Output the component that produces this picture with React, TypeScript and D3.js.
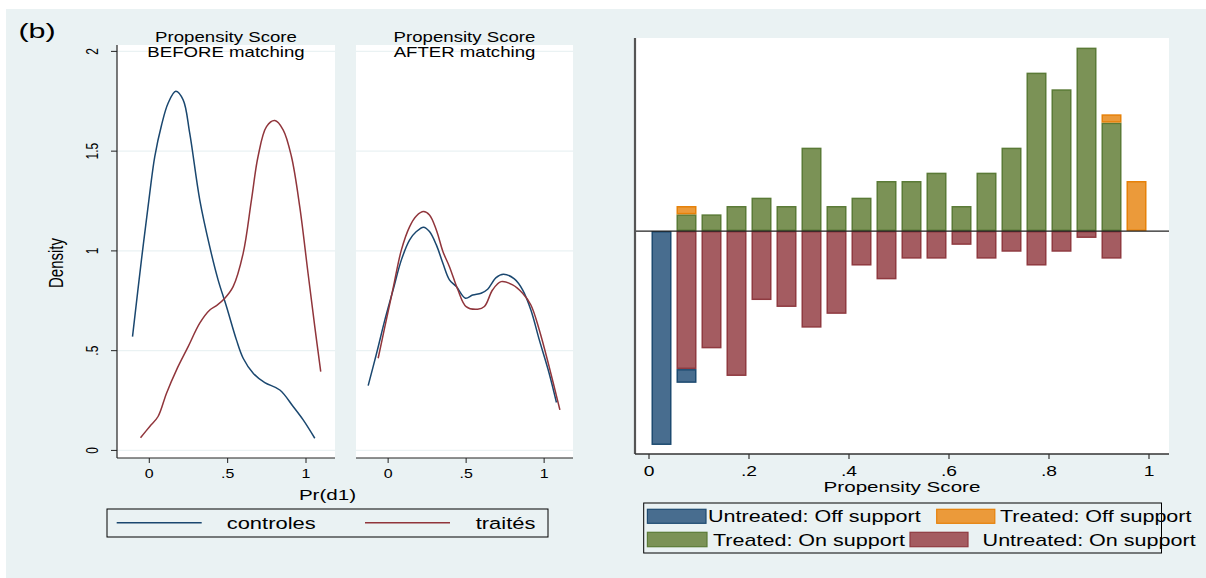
import React from "react";
import * as d3 from "d3";

// ---------- data ----------
const leftXTicks = [0, 0.5, 1];
const leftXTickLabels = ["0", ".5", "1"];
const leftYTicks = [0, 0.5, 1, 1.5, 2];
const leftYTickLabels = ["0", ".5", "1", "1.5", "2"];

// Kernel density curves (x = Pr(d1), y = density), BEFORE matching
const beforeControlesX = [-0.107, -0.05, 0.003, 0.035, 0.078, 0.12, 0.169, 0.216, 0.258, 0.322, 0.386, 0.439, 0.493, 0.556, 0.599, 0.663, 0.737, 0.833, 0.918, 0.982, 1.056];
const beforeControlesY = [0.57, 0.955, 1.29, 1.473, 1.63, 1.74, 1.8, 1.757, 1.59, 1.256, 1.02, 0.855, 0.72, 0.554, 0.462, 0.387, 0.34, 0.303, 0.22, 0.153, 0.061];
const beforeTraitesX = [-0.056, 0.003, 0.056, 0.11, 0.174, 0.248, 0.322, 0.386, 0.429, 0.482, 0.535, 0.599, 0.652, 0.694, 0.748, 0.801, 0.854, 0.907, 0.96, 1.013, 1.056, 1.094];
const beforeTraitesY = [0.064, 0.12, 0.17, 0.287, 0.404, 0.52, 0.638, 0.704, 0.726, 0.763, 0.821, 0.988, 1.256, 1.473, 1.623, 1.653, 1.607, 1.473, 1.222, 0.888, 0.62, 0.395];

// AFTER matching
const afterControlesX = [-0.128, -0.074, -0.021, 0.032, 0.085, 0.138, 0.181, 0.227, 0.265, 0.309, 0.351, 0.393, 0.437, 0.496, 0.542, 0.596, 0.638, 0.692, 0.739, 0.809, 0.862, 0.915, 0.969, 1.032, 1.079];
const afterControlesY = [0.325, 0.487, 0.654, 0.805, 0.955, 1.055, 1.097, 1.119, 1.097, 1.03, 0.938, 0.855, 0.821, 0.763, 0.779, 0.788, 0.808, 0.866, 0.883, 0.86, 0.805, 0.704, 0.554, 0.387, 0.24];
const afterTraitesX = [-0.064, -0.021, 0.032, 0.085, 0.138, 0.181, 0.227, 0.265, 0.309, 0.351, 0.393, 0.447, 0.5, 0.574, 0.617, 0.67, 0.724, 0.798, 0.862, 0.915, 0.969, 1.032, 1.101];
const afterTraitesY = [0.462, 0.62, 0.813, 1.005, 1.122, 1.175, 1.197, 1.18, 1.105, 0.997, 0.921, 0.805, 0.721, 0.708, 0.721, 0.805, 0.846, 0.83, 0.788, 0.729, 0.604, 0.42, 0.203];

// psgraph histogram (bin width 0.05)
const binCenters = [0.025, 0.075, 0.125, 0.175, 0.225, 0.275, 0.325, 0.375, 0.425, 0.475, 0.525, 0.575, 0.625, 0.675, 0.725, 0.775, 0.825, 0.875, 0.925, 0.975];
const binWidth = 0.05;
const treatedOn = [0, 2, 2, 3, 4, 3, 10, 3, 4, 6, 6, 7, 3, 7, 10, 19, 17, 22, 13, 0];
const treatedOff = [0, 1, 0, 0, 0, 0, 0, 0, 0, 0, 0, 0, 0, 0, 0, 0, 0, 0, 1, 6];
const untreatedOn = [0, 20, 17, 21, 10, 11, 14, 12, 5, 7, 4, 4, 2, 4, 3, 5, 3, 1, 4, 0];
const untreatedOff = [31, 2, 0, 0, 0, 0, 0, 0, 0, 0, 0, 0, 0, 0, 0, 0, 0, 0, 0, 0];
const rightXTicks = [0, 0.2, 0.4, 0.6, 0.8, 1];
const rightXTickLabels = ["0", ".2", ".4", ".6", ".8", "1"];

// ---------- style ----------
const BG = "#eaf2f3";
const NAVY = "#1a476f";
const MAROON = "#90353b";
const FONT = "'Liberation Sans', Arial, Helvetica, sans-serif";
const SX = 1.33;

const C = {
  offU: { fill: "#486d8f", stroke: "#1d4a70" },
  offT: { fill: "#eb9a3a", stroke: "#e68109" },
  onT: { fill: "#7b9256", stroke: "#5a7a36" },
  onU: { fill: "#a45c61", stroke: "#8f3a40" },
};

function T({ x, y, size, anchor = "middle", rotate = 0, sx = SX, children }: any) {
  return (
    <text
      transform={`translate(${x},${y}) scale(${sx},1)${rotate ? ` rotate(${rotate})` : ""}`}
      fontSize={size}
      textAnchor={anchor}
      fontFamily={FONT}
      fill="#000"
    >
      {children}
    </text>
  );
}

function zip(xs: number[], ys: number[]) {
  return xs.map((x, i) => [x, ys[i]] as [number, number]);
}

export default function App() {
  // left panels
  const pTop = 45, pBot = 458;
  const yL = d3.scaleLinear().domain([-0.038, 2.032]).range([pBot, pTop]);
  const xDom = [-0.206, 1.185];
  const panels = [
    { x0: 117, x1: 335, t2: "BEFORE matching", c: zip(beforeControlesX, beforeControlesY), t: zip(beforeTraitesX, beforeTraitesY), axis: true },
    { x0: 356, x1: 573, t2: "AFTER matching", c: zip(afterControlesX, afterControlesY), t: zip(afterTraitesX, afterTraitesY), axis: false },
  ];

  // right panel
  const rL = 635, rR = 1169, rT = 38, rB = 454;
  const xR = d3.scaleLinear().domain([0, 1]).range([649, 1149]);
  const yR = d3.scaleLinear().domain([-3.59, 3.108]).range([rB, rT]);
  const nT = d3.sum(treatedOn) + d3.sum(treatedOff);
  const nU = d3.sum(untreatedOn) + d3.sum(untreatedOff);
  const dT = (c: number) => c / (nT * binWidth);
  const dU = (c: number) => c / (nU * binWidth);
  const barHalf = 0.02;

  const bars: any[] = [];
  binCenters.forEach((bc, i) => {
    const x0 = xR(bc - barHalf), x1 = xR(bc + barHalf);
    const a1 = dT(treatedOn[i]);
    const a2 = a1 + dT(treatedOff[i]);
    const b1 = dU(untreatedOn[i]);
    const b2 = b1 + dU(untreatedOff[i]);
    const add = (lo: number, hi: number, col: any, key: string) => {
      if (hi - lo <= 0) return;
      const yA = yR(hi), yB = yR(lo);
      bars.push(
        <rect key={key + i} x={x0 + 0.75} y={yA + 0.75} width={x1 - x0 - 1.5} height={Math.max(0, yB - yA - 1.5)}
          fill={col.fill} stroke={col.stroke} strokeWidth={1.5} />
      );
    };
    add(0, a1, C.onT, "ton");
    add(a1, a2, C.offT, "toff");
    add(-b1, 0, C.onU, "uon");
    add(-b2, -b1, C.offU, "uoff");
  });

  return (
    <svg width={1206} height={578} style={{ position: "absolute", left: 0, top: 0 }} xmlns="http://www.w3.org/2000/svg">
      <rect x={0} y={0} width={1206} height={578} fill="#fff" />
      <rect x={6} y={9} width={1200} height={569} fill={BG} />

      <T x={37} y={38} size={21} sx={1.45}>(b)</T>

      {panels.map((p, pi) => {
        const xs = d3.scaleLinear().domain(xDom).range([p.x0, p.x1]);
        const line = d3.line<[number, number]>().x(d => xs(d[0])).y(d => yL(d[1])).curve(d3.curveCatmullRom);
        const cx = (p.x0 + p.x1) / 2;
        return (
          <g key={pi}>
            <rect x={p.x0} y={pTop} width={p.x1 - p.x0} height={pBot - pTop} fill="#fff" />
            {leftYTicks.map(v => (
              <line key={v} x1={p.x0} x2={p.x1} y1={yL(v)} y2={yL(v)} stroke={BG} strokeWidth={1.2} />
            ))}
            <path d={line(p.c) || ""} fill="none" stroke={NAVY} strokeWidth={1.5} />
            <path d={line(p.t) || ""} fill="none" stroke={MAROON} strokeWidth={1.5} />
            <line x1={p.x0} x2={p.x1} y1={pBot} y2={pBot} stroke="#222" strokeWidth={1.2} />
            {leftXTicks.map((v, i) => (
              <g key={v}>
                <line x1={xs(v)} x2={xs(v)} y1={pBot} y2={pBot + 5} stroke="#222" strokeWidth={1} />
                <T x={xs(v)} y={478} size={12}>{leftXTickLabels[i]}</T>
              </g>
            ))}
            {p.axis && (
              <g>
                <line x1={p.x0} x2={p.x0} y1={pTop} y2={pBot} stroke="#222" strokeWidth={1.2} />
                {leftYTicks.map((v, i) => (
                  <g key={v}>
                    <line x1={p.x0 - 6} x2={p.x0} y1={yL(v)} y2={yL(v)} stroke="#222" strokeWidth={1} />
                    <T x={98} y={yL(v)} size={12} rotate={-90}>{leftYTickLabels[i]}</T>
                  </g>
                ))}
              </g>
            )}
            <T x={cx} y={41.7} size={14}>Propensity Score</T>
            <T x={cx} y={56.5} size={14}>{p.t2}</T>
          </g>
        );
      })}

      <T x={63} y={263} size={15} rotate={-90}>Density</T>
      <T x={327.5} y={500} size={15.5}>Pr(d1)</T>

      {/* left legend */}
      <rect x={107} y={509} width={441} height={28} fill="none" stroke="#000" strokeWidth={1} />
      <line x1={116.7} x2={201.7} y1={522.7} y2={522.7} stroke={NAVY} strokeWidth={1.5} />
      <T x={226.7} y={528.7} size={16.5} anchor="start">controles</T>
      <line x1={365} x2={450} y1={522.7} y2={522.7} stroke={MAROON} strokeWidth={1.5} />
      <T x={475.7} y={528.7} size={16.5} anchor="start">traités</T>

      {/* right panel */}
      <rect x={rL} y={rT} width={rR - rL} height={rB - rT} fill="#fff" />
      {bars}
      <line x1={rL} x2={rR} y1={yR(0)} y2={yR(0)} stroke="#222" strokeWidth={1.2} />
      <line x1={rL} x2={rL} y1={rT} y2={rB} stroke="#555" strokeWidth={2.2} />
      <line x1={rL} x2={rR} y1={rB} y2={rB} stroke="#333" strokeWidth={1.5} />
      {rightXTicks.map((v, i) => (
        <g key={v}>
          <line x1={xR(v)} x2={xR(v)} y1={rB} y2={rB + 5} stroke="#333" strokeWidth={1.2} />
          <T x={xR(v)} y={475.5} size={14.5}>{rightXTickLabels[i]}</T>
        </g>
      ))}
      <T x={902} y={492} size={15.5}>Propensity Score</T>

      {/* right legend */}
      <rect x={643.7} y={503} width={517.8} height={50} fill="none" stroke="#000" strokeWidth={1} />
      <rect x={647.4} y={509.3} width={58.6} height={14} fill={C.offU.fill} stroke={C.offU.stroke} strokeWidth={1.2} />
      <T x={708} y={522} size={16.2} anchor="start">Untreated: Off support</T>
      <rect x={936.7} y={509.3} width={58.1} height={14} fill={C.offT.fill} stroke={C.offT.stroke} strokeWidth={1.2} />
      <T x={1000} y={522} size={16.2} anchor="start">Treated: Off support</T>
      <rect x={647.4} y={532.3} width={59.6} height={14.4} fill={C.onT.fill} stroke={C.onT.stroke} strokeWidth={1.2} />
      <T x={713} y={546} size={16.2} anchor="start">Treated: On support</T>
      <rect x={910} y={532.3} width={58} height={14.4} fill={C.onU.fill} stroke={C.onU.stroke} strokeWidth={1.2} />
      <T x={982.6} y={546} size={16.2} anchor="start">Untreated: On support</T>
    </svg>
  );
}
